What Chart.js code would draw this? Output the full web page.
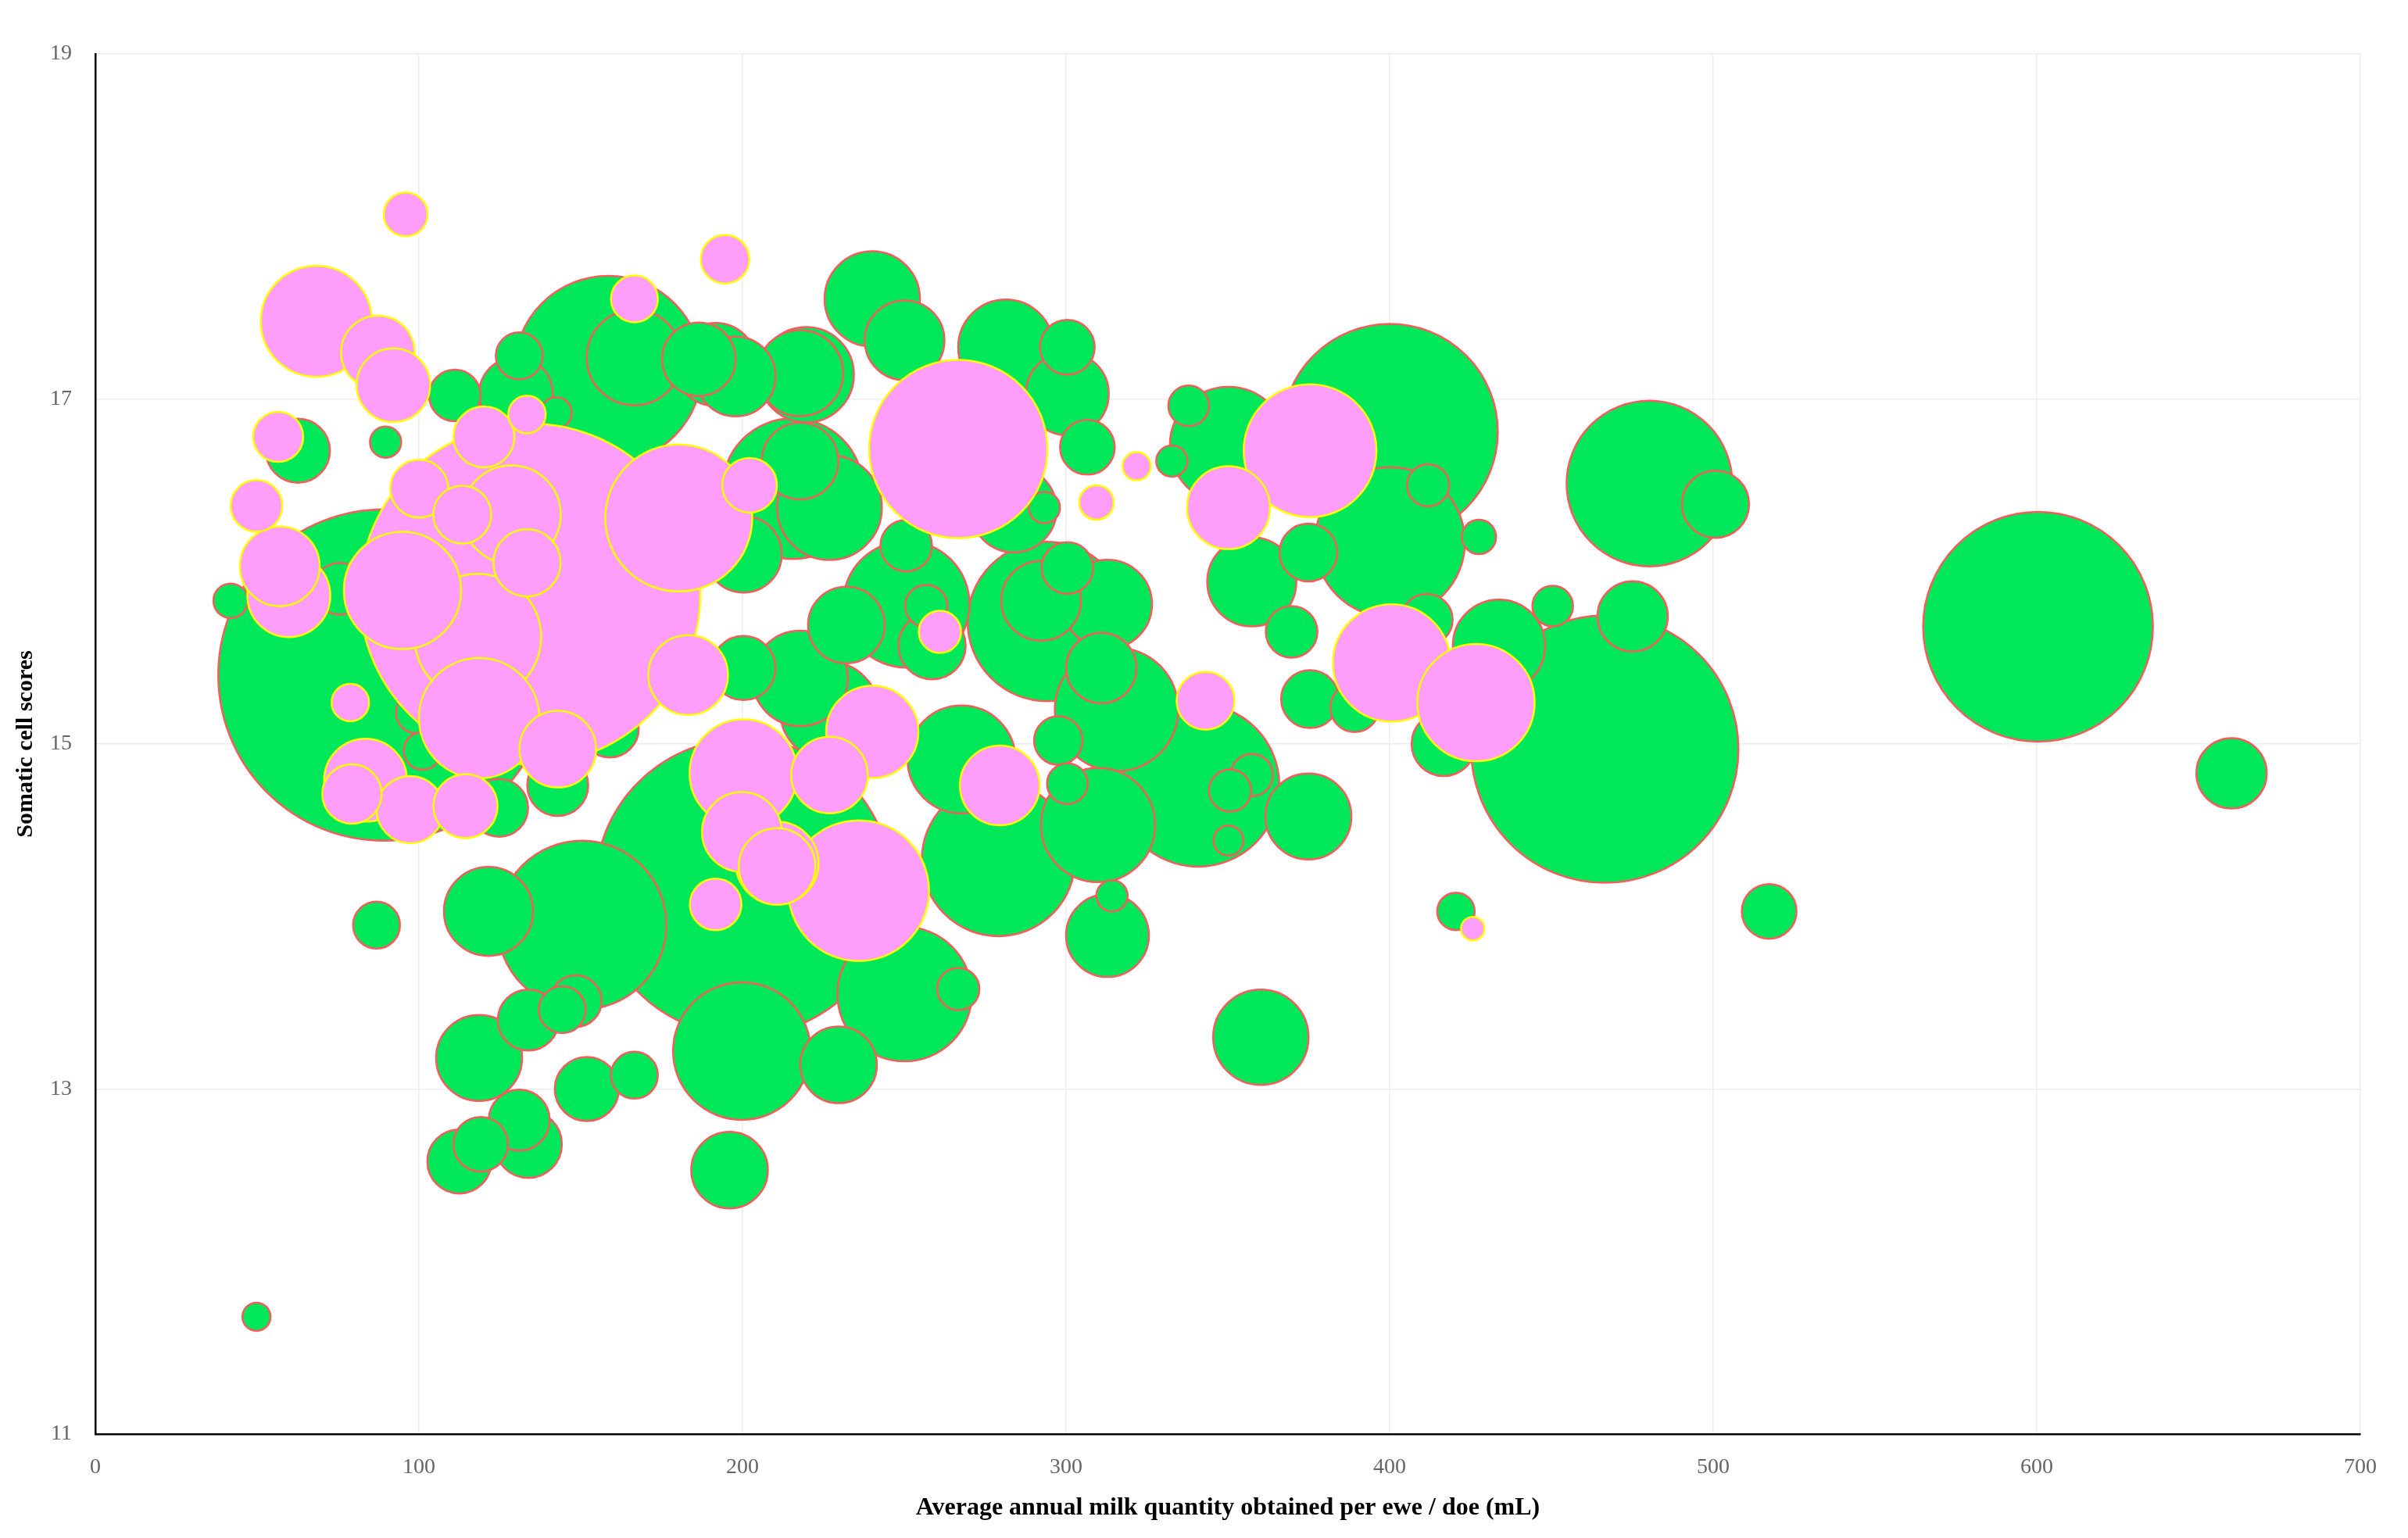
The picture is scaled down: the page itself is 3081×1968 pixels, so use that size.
<!DOCTYPE html>
<html>
<head>
<meta charset="utf-8">
<script src="https://cdn.jsdelivr.net/npm/chart.js@4.4.1/dist/chart.umd.min.js"></script>
<style>
  html, body { margin: 0; padding: 0; background: #fff; }
  #wrap { width: 3081px; height: 1968px; }
</style>
</head>
<body>
<div id="wrap"><canvas id="chart" width="3081" height="1968"></canvas></div>
<script>
// tick values
const xTicks = [0, 100, 200, 300, 400, 500, 600, 700];
const yTicks = [11, 13, 15, 17, 19];

// green series (milk quantity, somatic cell score, bubble radius)
const greenX = [49.8, 41.8, 86.9, 89.7, 62.6, 75.5, 89.2, 121.5, 150.4, 118.6, 151.9, 166.6, 133.8, 144.3, 148.5,
  131.0, 133.8, 112.5, 119.1, 196.0, 199.8, 229.7, 200.3, 250.1, 266.7, 312.8, 314.2, 124.8, 142.9, 101.1,
  99.2, 159.0, 158.5, 166.6, 186.5, 191.7, 197.9, 217.8, 219.7, 240.1, 250.1, 281.4, 300.4, 300.4, 306.6,
  293.3, 283.8, 215.5, 226.9, 217.8, 200.3, 250.6, 232.1, 256.8, 250.6, 258.6, 292.3, 300.4, 312.8, 294.2,
  142.4, 131.0, 130.0, 111.1, 94.9, 217.8, 200.3, 226.9, 267.7, 310.9, 315.6, 297.6, 300.4, 309.9, 279.1,
  337.9, 332.7, 350.2, 357.4, 369.7, 374.9, 375.4, 389.2, 416.7, 411.9, 411.5, 400.1, 400.1, 427.6, 433.8,
  450.4, 475.1, 466.5, 480.3, 500.7, 517.3, 600.4, 660.2, 420.5, 360.2, 340.8, 374.9, 357.4, 350.7, 350.2];
const greenY = [11.68, 15.83, 13.95, 16.75, 16.70, 15.90, 15.40, 14.03, 13.95, 13.18, 13.00, 13.08, 13.40, 13.46, 13.51,
  12.82, 12.68, 12.58, 12.68, 12.53, 13.22, 13.14, 14.17, 13.55, 13.58, 13.89, 14.12, 14.63, 14.76, 14.96,
  15.18, 15.09, 17.17, 17.24, 17.23, 17.20, 17.13, 17.15, 17.14, 17.58, 17.34, 17.30, 17.30, 17.03, 16.72,
  16.37, 16.36, 16.48, 16.37, 16.64, 16.10, 16.15, 15.69, 15.80, 15.81, 15.57, 15.83, 16.02, 15.81, 15.71,
  16.92, 17.25, 17.03, 17.02, 16.24, 15.38, 15.44, 15.19, 14.91, 15.44, 15.20, 15.02, 14.77, 14.53, 14.33,
  16.96, 16.64, 16.73, 15.94, 15.65, 16.11, 15.26, 15.21, 15.00, 16.50, 15.72, 16.81, 16.17, 16.20, 15.57,
  15.80, 15.74, 14.97, 16.51, 16.39, 14.03, 15.68, 14.83, 14.03, 13.30, 14.76, 14.58, 14.82, 14.73, 14.44];
const greenR = [18, 22, 30, 20, 41, 33, 212, 57, 108, 55, 41, 30, 39, 30, 33,
  39, 43, 41, 35, 49, 88, 49, 190, 86, 27, 53, 20, 37, 39, 24,
  26, 37, 120, 61, 47, 53, 51, 55, 61, 61, 51, 61, 35, 53, 35,
  20, 55, 90, 67, 49, 49, 33, 49, 27, 81, 43, 51, 33, 57, 102,
  20, 30, 47, 33, 35, 61, 41, 63, 69, 45, 79, 31, 26, 73, 98,
  26, 20, 75, 57, 33, 37, 37, 31, 41, 27, 33, 138, 96, 22, 59,
  26, 45, 171, 106, 43, 35, 147, 45, 24, 61, 104, 55, 27, 27, 19];

// pink series
const pinkX = [95.9, 68.3, 194.6, 166.6, 87.3, 92.1, 56.5, 133.4, 120.1, 49.8, 100.1, 113.4, 128.6, 133.4, 180.3,
  202.2, 57.0, 59.8, 94.9, 134.3, 118.2, 118.6, 183.2, 78.8, 83.5, 79.3, 97.3, 114.4, 200.3, 226.9,
  240.1, 191.7, 199.8, 210.7, 210.7, 235.9, 266.7, 261.0, 279.5, 309.4, 321.8, 375.4, 350.2, 400.6, 426.7,
  343.1, 425.7, 142.9];
const pinkY = [18.07, 17.45, 17.81, 17.58, 17.27, 17.08, 16.78, 16.91, 16.78, 16.38, 16.48, 16.33, 16.33, 16.05, 16.31,
  16.50, 16.03, 15.86, 15.89, 15.87, 15.62, 15.15, 15.40, 15.24, 14.79, 14.71, 14.62, 14.64, 14.83, 14.82,
  15.07, 14.07, 14.49, 14.29, 14.31, 14.15, 16.71, 15.65, 14.76, 16.40, 16.61, 16.70, 16.37, 15.47, 15.24,
  15.25, 13.93, 14.97];
const pinkR = [28, 71, 31, 30, 47, 47, 32, 24, 39, 33, 37, 37, 63, 43, 94,
  35, 51, 53, 75, 218, 81, 77, 51, 24, 53, 38, 43, 41, 69, 49,
  59, 33, 51, 49, 53, 90, 114, 27, 51, 22, 18, 85, 53, 75, 75,
  37, 15, 49];

// bigger bubbles first so the small ones stay visible on top
function toPoints(xs, ys, rs) {
  return xs.map((x, i) => ({ x: x, y: ys[i], r: rs[i] }))
    .sort((a, b) => b.r - a.r);
}

const serif = '"Liberation Serif", "DejaVu Serif", serif';

new Chart(document.getElementById('chart'), {
  type: 'bubble',
  data: {
    datasets: [
      {
        label: 'pink',
        data: toPoints(pinkX, pinkY, pinkR),
        backgroundColor: '#FF9DFA',
        borderColor: '#FFFF00',
        borderWidth: 2.5,
        order: 0
      },
      {
        label: 'green',
        data: toPoints(greenX, greenY, greenR),
        backgroundColor: '#00E85A',
        borderColor: '#F75B5B',
        borderWidth: 2.5,
        order: 1
      }
    ]
  },
  options: {
    responsive: false,
    animation: false,
    // no auto padding: the bubbles may spill past the plot like in the original
    layout: { autoPadding: false, padding: { top: 69, right: 61, bottom: 0, left: 0 } },
    plugins: {
      legend: { display: false },
      tooltip: { enabled: false }
    },
    scales: {
      x: {
        type: 'linear',
        min: 0,
        max: 700,
        afterBuildTicks: (s) => { s.ticks = xTicks.map(v => ({ value: v })); },
        afterFit: (s) => { s.height = 133; },
        grid: { color: '#eeeeee', lineWidth: 1.5, drawTicks: false },
        border: { color: '#000', width: 2.5 },
        ticks: { color: '#666', padding: 26, font: { family: serif, size: 28 } },
        title: {
          display: true,
          text: 'Average annual milk quantity obtained per ewe / doe (mL)',
          color: '#000',
          font: { family: serif, size: 32, weight: 'bold' },
          padding: { top: 0, bottom: 19 }
        }
      },
      y: {
        type: 'linear',
        min: 11,
        max: 19,
        afterBuildTicks: (s) => { s.ticks = yTicks.map(v => ({ value: v })); },
        afterFit: (s) => { s.width = 122; },
        grid: { color: '#eeeeee', lineWidth: 1.5, drawTicks: false },
        border: { color: '#000', width: 2.5 },
        ticks: { color: '#666', padding: 30, font: { family: serif, size: 28 } },
        title: {
          display: true,
          text: 'Somatic cell scores',
          color: '#000',
          font: { family: serif, size: 30, weight: 'bold' },
          padding: { top: 15, bottom: 0 }
        }
      }
    }
  }
});
</script>
</body>
</html>
